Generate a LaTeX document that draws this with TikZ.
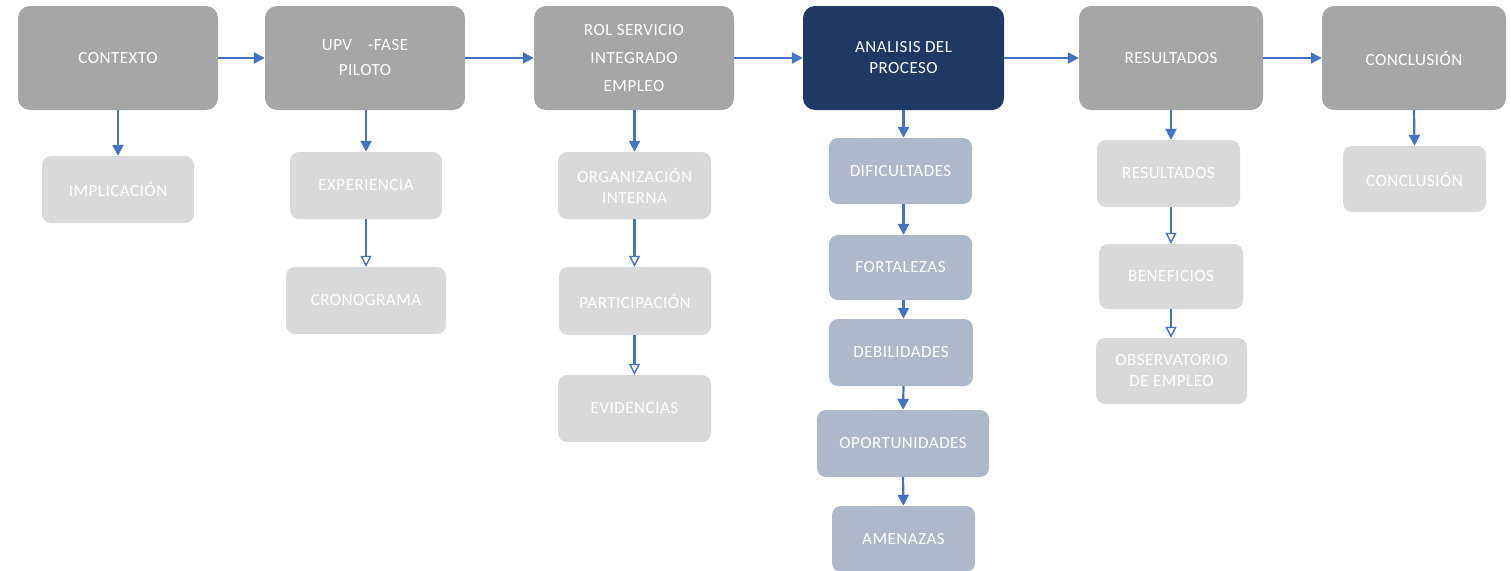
\documentclass[tikz,border=0pt]{standalone}
\usepackage{fontspec}
\setmainfont[LetterSpace=3]{Carlito}
\usetikzlibrary{arrows.meta}
\definecolor{topgray}{RGB}{166,166,166}
\definecolor{navy}{RGB}{31,56,100}
\definecolor{swot}{RGB}{173,185,202}
\definecolor{light}{RGB}{217,217,217}
\definecolor{arrowblue}{RGB}{68,114,196}
\tikzset{
  box/.style={rectangle, rounded corners=12pt, draw=none, text=white, align=center,
    font=\fontsize{17}{21}\selectfont, inner sep=0pt},
  topbox/.style={box, fill=topgray, minimum height=104pt},
  keybox/.style={box, fill=navy, minimum height=104pt},
  subbox/.style={box, rounded corners=9pt, fill=light},
  swotbox/.style={box, rounded corners=9pt, fill=swot},
  arr/.style={draw=arrowblue, line width=2.2pt, -{Triangle[length=11pt,width=11pt]}},
  oarr/.style={draw=arrowblue, line width=2.2pt, -{Triangle[open,length=11pt,width=11pt,line width=1.4pt]}}
}
\begin{document}
\begin{tikzpicture}[x=1pt,y=-1pt]
\useasboundingbox (0,0) rectangle (1511,570);
% top row
\node[topbox, minimum width=200pt] (ctx) at (118,58) {CONTEXTO};
\node[topbox, minimum width=200pt] (upv) at (365,58) {UPV\hspace{16pt}-FASE\\[4pt]PILOTO};
\node[topbox, minimum width=200pt] (rol) at (634,58) {ROL SERVICIO\\[7pt]INTEGRADO\\[7pt]EMPLEO};
\node[keybox, minimum width=201pt] (ana) at (903.5,58) {ANALISIS DEL\\PROCESO};
\node[topbox, minimum width=184pt] (res) at (1171,58) {RESULTADOS};
\node[topbox, minimum width=184pt] (con) at (1414,58) {CONCLUSIÓN};
% sub boxes
\node[subbox, minimum width=152pt, minimum height=67pt] (impl) at (118,189.5) {IMPLICACIÓN};
\node[subbox, minimum width=152pt, minimum height=67pt] (exp) at (366,185.5) {EXPERIENCIA};
\node[subbox, minimum width=160pt, minimum height=67pt] (cro) at (366,300.5) {CRONOGRAMA};
\node[subbox, minimum width=153pt, minimum height=67pt] (org) at (634.5,185.5) {ORGANIZACIÓN\\INTERNA};
\node[subbox, minimum width=152pt, minimum height=68pt] (par) at (635,301) {PARTICIPACIÓN};
\node[subbox, minimum width=153pt, minimum height=67pt] (evi) at (634.5,408.5) {EVIDENCIAS};
\node[swotbox, minimum width=143pt, minimum height=66pt] (dif) at (900.5,171) {DIFICULTADES};
\node[swotbox, minimum width=143pt, minimum height=65pt] (for) at (900.5,267.5) {FORTALEZAS};
\node[swotbox, minimum width=144pt, minimum height=67pt] (deb) at (901,352.5) {DEBILIDADES};
\node[swotbox, minimum width=172pt, minimum height=67pt] (opo) at (903,443.5) {OPORTUNIDADES};
\node[swotbox, minimum width=143pt, minimum height=66pt] (ame) at (903.5,539) {AMENAZAS};
\node[subbox, minimum width=143pt, minimum height=67pt] (rsub) at (1168.5,173.5) {RESULTADOS};
\node[subbox, minimum width=144pt, minimum height=65pt] (ben) at (1171,276.5) {BENEFICIOS};
\node[subbox, minimum width=151pt, minimum height=66pt] (obs) at (1171.5,371) {OBSERVATORIO\\DE EMPLEO};
\node[subbox, minimum width=143pt, minimum height=66pt] (csub) at (1414.5,179) {CONCLUSIÓN};
% horizontal arrows
\draw[arr] (ctx.east) -- (upv.west);
\draw[arr] (upv.east) -- (rol.west);
\draw[arr] (rol.east) -- (ana.west);
\draw[arr] (ana.east) -- (res.west);
\draw[arr] (res.east) -- (con.west);
% vertical arrows
\draw[arr] (ctx.south) -- (impl.north);
\draw[arr] (upv.south -| exp.north) -- (exp.north);
\draw[oarr] (exp.south) -- (cro.north);
\draw[arr] (rol.south -| org.north) -- (org.north);
\draw[oarr] (org.south) -- (org.south |- par.north);
\draw[oarr] (par.south -| org.south) -- (evi.north);
\draw[arr] (ana.south) -- (ana.south |- dif.north);
\draw[arr] (dif.south -| ana.south) -- (ana.south |- for.north);
\draw[arr] (for.south -| ana.south) -- (ana.south |- deb.north);
\draw[arr] (deb.south -| ana.south) -- (opo.north);
\draw[arr] (opo.south) -- (ame.north);
\draw[arr] (res.south) -- (res.south |- rsub.north);
\draw[oarr] (rsub.south -| res.south) -- (ben.north);
\draw[oarr] (ben.south) -- (ben.south |- obs.north);
\draw[arr] (con.south) -- (csub.north);
\end{tikzpicture}
\end{document}
